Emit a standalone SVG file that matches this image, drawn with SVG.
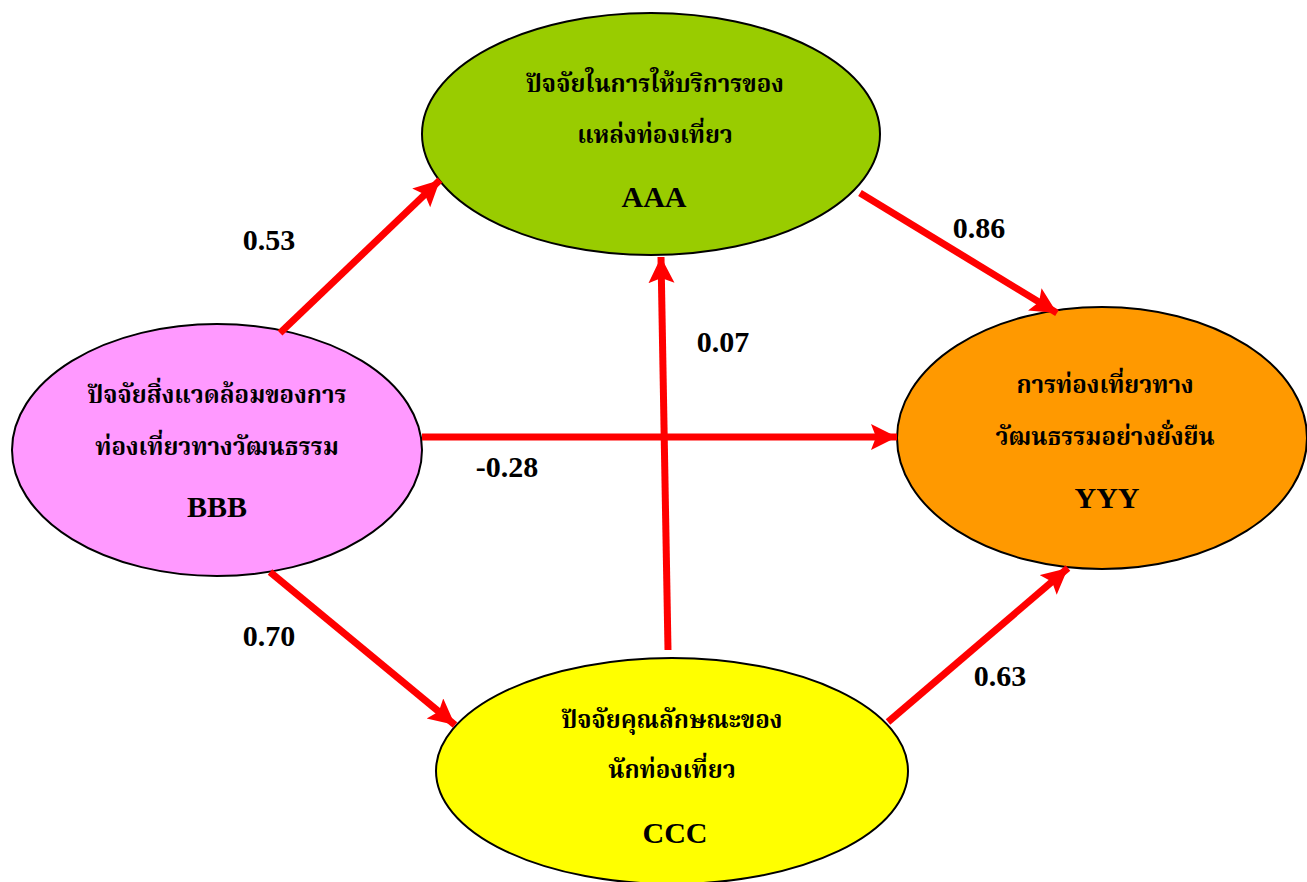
<svg xmlns="http://www.w3.org/2000/svg" width="1307" height="882" viewBox="0 0 1307 882">
<style>
.node{stroke:#000;stroke-width:2}
.th{font-family:"Liberation Serif","Noto Serif Thai","Noto Sans Thai",serif;font-weight:bold;font-size:24px;text-anchor:middle;fill:#000}
.code{font-family:"Liberation Serif",serif;font-weight:bold;font-size:30px;text-anchor:middle;fill:#000}
.lbl{font-family:"Liberation Serif",serif;font-weight:bold;font-size:30px;text-anchor:middle;fill:#000}
.edge{stroke:#ff0000;stroke-width:7;fill:none;marker-end:url(#ah)}
</style>
<defs>
<marker id="ah" markerUnits="userSpaceOnUse" markerWidth="30" markerHeight="30" refX="26" refY="13" orient="auto" viewBox="0 0 30 30">
<polygon points="0,0 26,13 0,26 5,13" fill="#ff0000"/>
</marker>
</defs>
<rect width="1307" height="882" fill="#fff"/>
<g id="nodeAAA">
<ellipse class="node" cx="651" cy="134" rx="229" ry="121" fill="#99cc00"/>
<text class="th" x="655" y="92">ปัจจัยในการให้บริการของ</text>
<text class="th" x="655" y="143">แหล่งท่องเที่ยว</text>
<text class="code" x="654" y="207">AAA</text>
</g>
<g id="nodeBBB">
<ellipse class="node" cx="217" cy="450" rx="205" ry="126" fill="#ff99ff"/>
<text class="th" x="217" y="403">ปัจจัยสิ่งแวดล้อมของการ</text>
<text class="th" x="217" y="455">ท่องเที่ยวทางวัฒนธรรม</text>
<text class="code" x="217" y="517">BBB</text>
</g>
<g id="nodeYYY">
<ellipse class="node" cx="1102" cy="438" rx="205" ry="131" fill="#ff9900"/>
<text class="th" x="1105" y="393">การท่องเที่ยวทาง</text>
<text class="th" x="1105" y="445">วัฒนธรรมอย่างยั่งยืน</text>
<text class="code" x="1107" y="508">YYY</text>
</g>
<g id="nodeCCC">
<ellipse class="node" cx="672" cy="771" rx="236" ry="113" fill="#ffff00"/>
<text class="th" x="672" y="728">ปัจจัยคุณลักษณะของ</text>
<text class="th" x="672" y="778">นักท่องเที่ยว</text>
<text class="code" x="675" y="843">CCC</text>
</g>
<g id="connectors">
<line class="edge" x1="280" y1="333" x2="440" y2="180"/>
<line class="edge" x1="860" y1="193" x2="1057" y2="313"/>
<line class="edge" x1="422" y1="437" x2="897" y2="437"/>
<line class="edge" x1="668" y1="650" x2="661" y2="257"/>
<line class="edge" x1="270" y1="572" x2="455" y2="725"/>
<line class="edge" x1="888" y1="722" x2="1068" y2="568"/>
</g>
<g id="labels">
<text class="lbl" x="269" y="250">0.53</text>
<text class="lbl" x="979" y="238">0.86</text>
<text class="lbl" x="723" y="352">0.07</text>
<text class="lbl" x="507" y="477">-0.28</text>
<text class="lbl" x="269" y="646">0.70</text>
<text class="lbl" x="1000" y="686">0.63</text>
</g>
</svg>
